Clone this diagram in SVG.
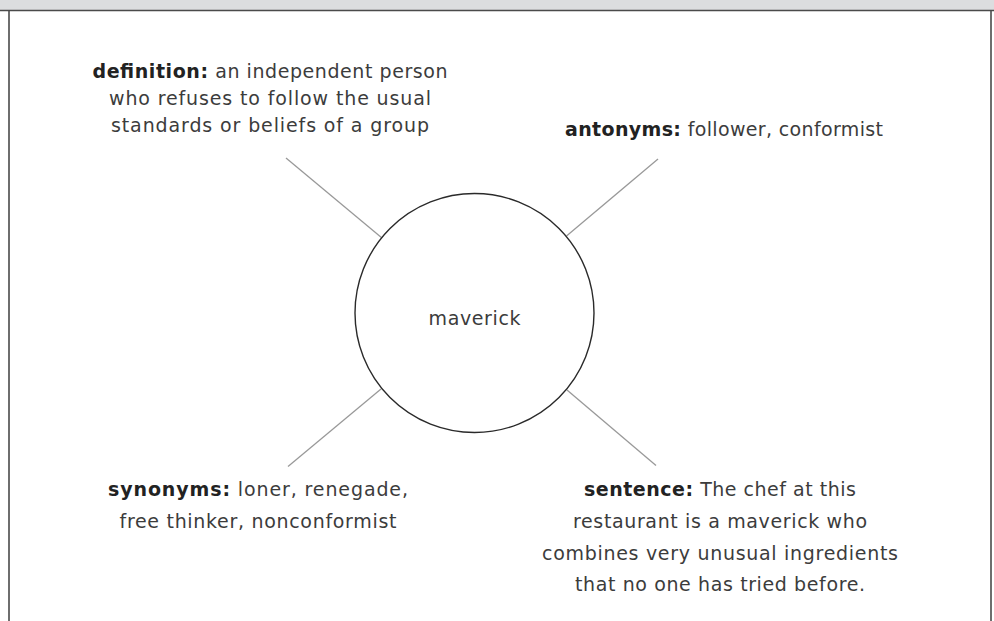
<svg xmlns="http://www.w3.org/2000/svg" width="994" height="621" viewBox="0 0 994 621">
<style>
.t{font-family:"DejaVu Sans","Liberation Sans",sans-serif;font-size:19px;fill:#3c3c3c}
.b{font-weight:bold;fill:#222}
.c{stroke:#999;stroke-width:1.3;fill:none}
.frame{stroke:#4a4a4a;stroke-width:1.6;fill:none}
</style>
<rect x="0" y="0" width="994" height="10" fill="#dcdddf"/>
<line class="frame" x1="0" y1="10.5" x2="994" y2="10.5" stroke-width="2"/>
<line class="frame" x1="9" y1="10" x2="9" y2="621"/>
<line class="frame" x1="991" y1="10" x2="991" y2="621"/>
<g id="connectors">
<line class="c" x1="286" y1="158" x2="381.7" y2="237.7"/>
<line class="c" x1="658" y1="159" x2="566.5" y2="236"/>
<line class="c" x1="288" y1="466.5" x2="381" y2="389"/>
<line class="c" x1="567" y1="390" x2="656" y2="465.5"/>
</g>
<g id="center">
<circle cx="474.5" cy="313" r="119.5" fill="#fff" stroke="#2a2a2a" stroke-width="1.4"/>
<text class="t" x="474.5" y="325" text-anchor="middle" textLength="92">maverick</text>
</g>
<g id="definition">
<text class="t" x="270" y="78" text-anchor="middle" textLength="355"><tspan class="b">definition:</tspan> an independent person</text>
<text class="t" x="270" y="105" text-anchor="middle" textLength="322">who refuses to follow the usual</text>
<text class="t" x="270" y="131.5" text-anchor="middle" textLength="318">standards or beliefs of a group</text>
</g>
<g id="antonyms">
<text class="t" x="724" y="136" text-anchor="middle" textLength="318"><tspan class="b">antonyms:</tspan> follower, conformist</text>
</g>
<g id="synonyms">
<text class="t" x="258" y="496" text-anchor="middle" textLength="300"><tspan class="b">synonyms:</tspan> loner, renegade,</text>
<text class="t" x="258" y="528" text-anchor="middle" textLength="277">free thinker, nonconformist</text>
</g>
<g id="sentence">
<text class="t" x="720" y="496" text-anchor="middle" textLength="272"><tspan class="b">sentence:</tspan> The chef at this</text>
<text class="t" x="720" y="528" text-anchor="middle" textLength="294">restaurant is a maverick who</text>
<text class="t" x="720" y="560" text-anchor="middle" textLength="356">combines very unusual ingredients</text>
<text class="t" x="720" y="591" text-anchor="middle" textLength="290">that no one has tried before.</text>
</g>
</svg>
